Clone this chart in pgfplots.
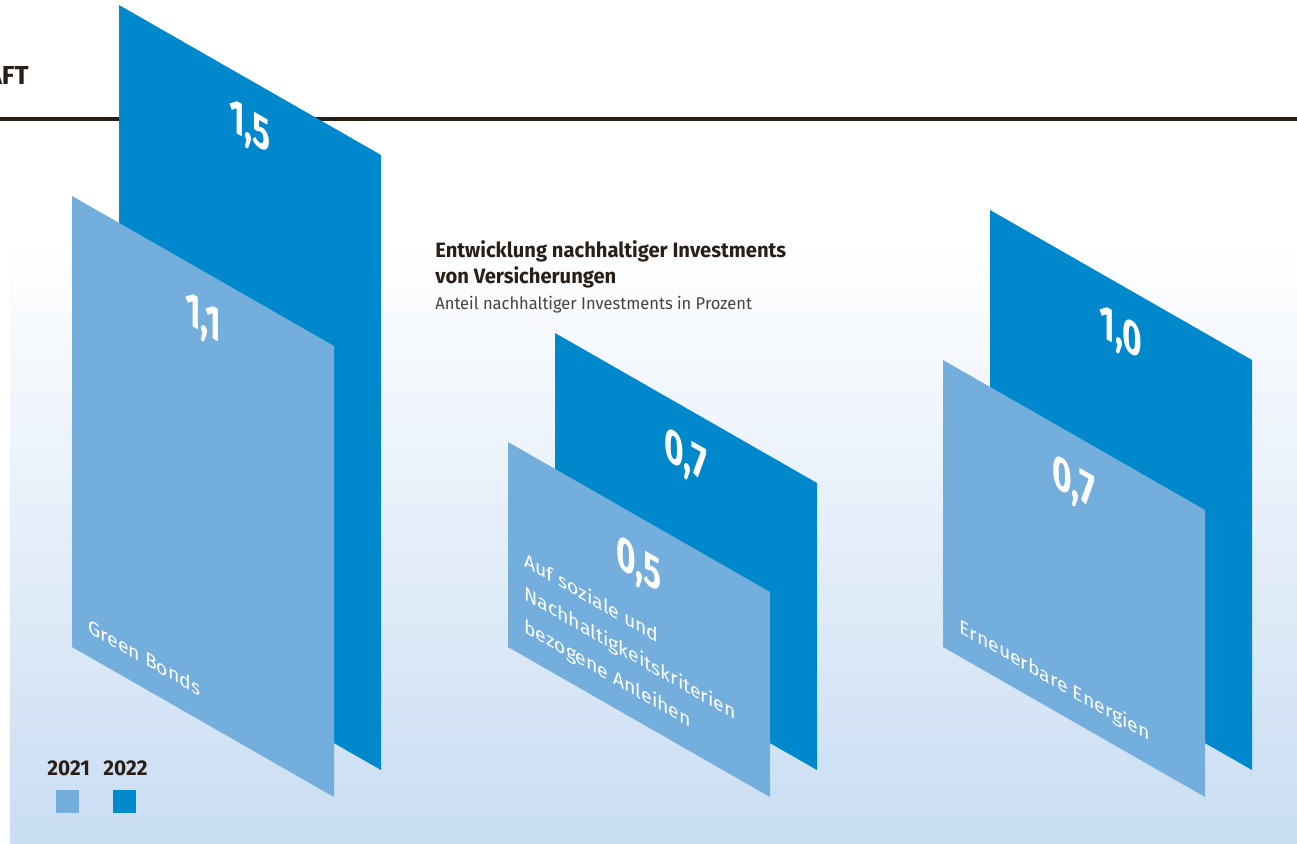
\documentclass[border=0pt]{standalone}
\usepackage{fontspec}
\setmainfont{Fira Sans}
\newfontfamily\numfont{Fira Sans}[FakeStretch=0.7]
\newfontfamily\titlefont{Fira Sans}[FakeStretch=0.97]
\usepackage{pgfplots}
\pgfplotsset{compat=1.18}
\definecolor{dblue}{HTML}{0088CC}
\definecolor{lblue}{HTML}{74AEDD}
\definecolor{bgblue}{HTML}{C9DDF3}
\definecolor{ink}{HTML}{2A1F17}
\pgfplotsset{
  skbar/.style={hide axis, clip=false, disabledatascaling, anchor=origin,
    x={(131pt,-75pt)}, y={(0pt,205pt)},
    xmin=0, xmax=1, ymin=0, ymax=1.6},
}
\tikzset{
  vlab/.style={font=\numfont\bfseries\fontsize{24pt}{24pt}\selectfont, text=white,
    yslant=-0.5725, yshift=-25pt, inner sep=0pt},
  clab/.style={font=\fontsize{9.7pt}{16.5pt}\selectfont, text=white,
    yslant=-0.5725, anchor=base west, inner sep=0pt, align=left}}
\begin{document}
\begin{tikzpicture}[x=0.5pt,y=0.5pt]
\useasboundingbox (0,0) rectangle (1297,843);
\fill[white] (0,0) rectangle (1297,843);
\shade[top color=white, bottom color=bgblue] (10,603) rectangle (1297,0);
\fill[ink] (0,725.5) rectangle (1297,721.5);
\node[anchor=base east, inner sep=0pt, font=\bfseries\fontsize{13pt}{15pt}\selectfont, text=ink] at (29,758) {AFT};
\node[anchor=base west, inner sep=0pt, font=\titlefont\bfseries\fontsize{10.4pt}{13pt}\selectfont, text=ink] at (435,586) {Entwicklung nachhaltiger Investments};
\node[anchor=base west, inner sep=0pt, font=\titlefont\bfseries\fontsize{10.4pt}{13pt}\selectfont, text=ink] at (435,560) {von Versicherungen};
\node[anchor=base west, inner sep=0pt, font=\titlefont\fontsize{8.5pt}{10pt}\selectfont, text=ink!85] at (435,534) {Anteil nachhaltiger Investments in Prozent};
% 2022 (back)
\begin{axis}[skbar, at={(59.5pt,111.5pt)}]
\addplot[fill=dblue, draw=none] coordinates {(0,0) (0,1.5) (1,1.5) (1,0)} -- cycle;
\node[vlab] at (axis cs:0.5,1.5) {1,5};
\end{axis}
\begin{axis}[skbar, at={(277.5pt,111.5pt)}]
\addplot[fill=dblue, draw=none] coordinates {(0,0) (0,0.7) (1,0.7) (1,0)} -- cycle;
\node[vlab] at (axis cs:0.5,0.7) {0,7};
\end{axis}
\begin{axis}[skbar, at={(495pt,111.5pt)}]
\addplot[fill=dblue, draw=none] coordinates {(0,0) (0,1.0) (1,1.0) (1,0)} -- cycle;
\node[vlab] at (axis cs:0.5,1.0) {1,0};
\end{axis}
% 2021 (front)
\begin{axis}[skbar, at={(36pt,98pt)}]
\addplot[fill=lblue, draw=none] coordinates {(0,0) (0,1.1) (1,1.1) (1,0)} -- cycle;
\node[vlab] at (axis cs:0.5,1.1) {1,1};
\end{axis}
\begin{axis}[skbar, at={(254pt,98pt)}]
\addplot[fill=lblue, draw=none] coordinates {(0,0) (0,0.5) (1,0.5) (1,0)} -- cycle;
\node[vlab] at (axis cs:0.5,0.5) {0,5};
\end{axis}
\begin{axis}[skbar, at={(471.5pt,98pt)}]
\addplot[fill=lblue, draw=none] coordinates {(0,0) (0,0.7) (1,0.7) (1,0)} -- cycle;
\node[vlab] at (axis cs:0.5,0.7) {0,7};
\end{axis}
% category labels
\node[clab] at (88,211) {Green Bonds};
\node[clab] at (524,211) {Auf soziale und\\Nachhaltigkeitskriterien\\bezogene Anleihen};
\node[clab] at (959,211) {Erneuerbare Energien};
% legend
\node[anchor=base west, inner sep=0pt, font=\titlefont\bfseries\fontsize{10.7pt}{12pt}\selectfont, text=ink] at (47,68) {2021};
\node[anchor=base west, inner sep=0pt, font=\titlefont\bfseries\fontsize{10.7pt}{12pt}\selectfont, text=ink] at (103,68) {2022};
\fill[lblue] (56,53) rectangle (79,30);
\fill[dblue] (113,53) rectangle (136,30);
\end{tikzpicture}
\end{document}
